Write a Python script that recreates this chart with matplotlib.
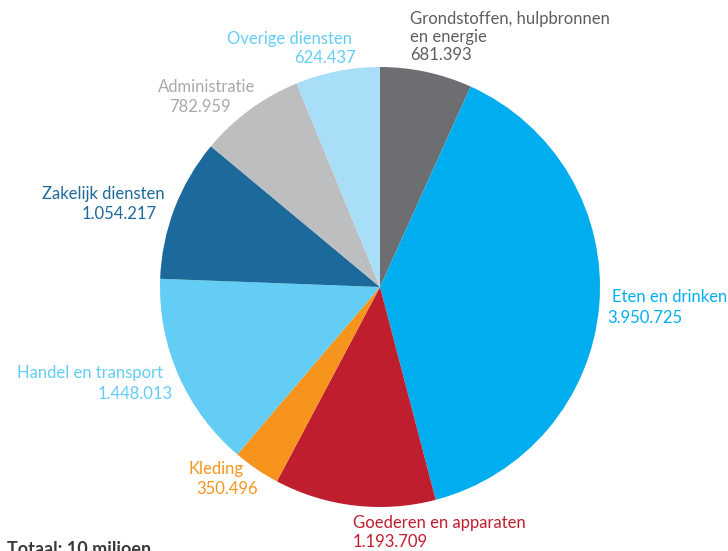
import matplotlib.pyplot as plt

# data, clockwise from 12 o'clock
sectors = ["Grondstoffen, hulpbronnen\nen energie", "Eten en drinken", "Goederen en apparaten",
           "Kleding", "Handel en transport", "Zakelijk diensten", "Administratie", "Overige diensten"]
values = [681393, 3950725, 1193709, 350496, 1448013, 1054217, 782959, 624437]
value_labels = ["681.393", "3.950.725", "1.193.709", "350.496", "1.448.013", "1.054.217", "782.959", "624.437"]
total_label = "Totaal: 10 miljoen"

colors = ["#6d6e71", "#00aeef", "#be1e2d", "#f7941d", "#63cdf5", "#1c6a9b", "#bcbec0", "#a9def8"]
text_colors = ["#5d5e61", "#00aeef", "#be1e2d", "#f7941d", "#63cdf5", "#1c6a9b", "#a7a9ac", "#63cdf5"]

W, H = 728, 551

plt.rcParams['font.family'] = ['Lato', 'DejaVu Sans']

fig = plt.figure(figsize=(W / 100, H / 100), dpi=100)
ax = fig.add_axes([0, 0, 1, 1])

cx, cy, r = 380, 287, 220
ax.pie(values, colors=colors, startangle=90, counterclock=False,
       center=(cx, H - cy), radius=r, frame=True,
       wedgeprops=dict(linewidth=0))
ax.set_xlim(0, W)
ax.set_ylim(0, H)
ax.set_aspect("equal")
ax.axis("off")

# label layout in pixel coords: (x of name, y of name, y of value, alignment, x of value)
layout = [
    (410, 28, 55, "left", 410),
    (612, 297, 318, "left", 607),
    (353, 523, 542, "left", 353),
    (243, 469, 489, "right", 258),
    (163, 373, 394, "right", 173),
    (165, 194, 214, "right", 157),
    (255, 87, 107, "right", 231),
    (352, 39, 58, "right", 356),
]
fs = 12
for name, val, tc, (x, yn, yv, ha, xv) in zip(sectors, value_labels, text_colors, layout):
    ax.text(x, H - yn, name, ha=ha, va="center", color=tc, fontsize=fs, linespacing=1.2)
    ax.text(xv, H - yv, val, ha=ha, va="center", color=tc, fontsize=fs)

ax.text(7, H - 541, total_label, ha="left", va="top", color="#3a3a3c",
        fontsize=13, fontweight="bold")

fig.savefig("out.png", dpi=100)
